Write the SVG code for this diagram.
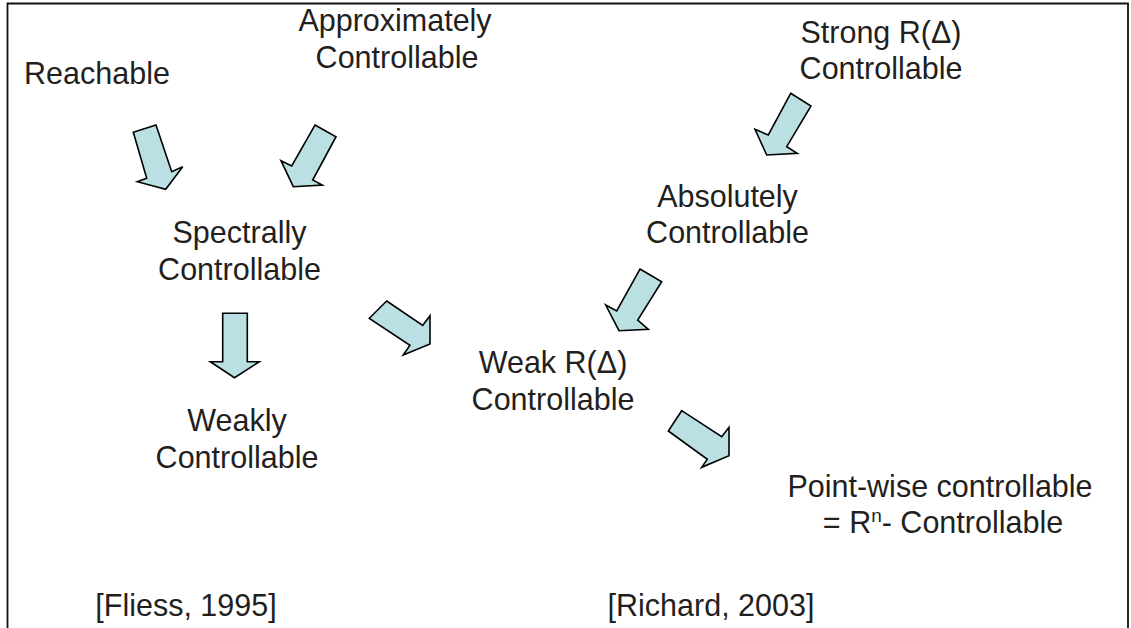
<svg xmlns="http://www.w3.org/2000/svg" width="1131" height="628" viewBox="0 0 1131 628">
<style>
.t{font-family:"Liberation Sans",Arial,sans-serif;font-size:30.5px;fill:#231f20;text-anchor:middle}
.a{fill:#bbe0e3;stroke:#000;stroke-width:1.6;stroke-linejoin:miter}
</style>
<rect x="0" y="0" width="1131" height="628" fill="#fff"/>
<path d="M7.5,628 V3.5 H1128 V628" fill="none" stroke="#111" stroke-width="1.8"/>
<g id="reachable"><text class="t" x="97" y="83.5">Reachable</text></g>
<g id="approx"><text class="t" x="395" y="31">Approximately</text><text class="t" x="397" y="68">Controllable</text></g>
<g id="spectrally"><text class="t" x="239.5" y="243.3">Spectrally</text><text class="t" x="239.5" y="280">Controllable</text></g>
<g id="weakly"><text class="t" x="237" y="431">Weakly</text><text class="t" x="237" y="468">Controllable</text></g>
<g id="strong"><text class="t" x="881" y="42.7">Strong R(Δ)</text><text class="t" x="881" y="79">Controllable</text></g>
<g id="absolutely"><text class="t" x="727.5" y="206.7">Absolutely</text><text class="t" x="727.5" y="243.3">Controllable</text></g>
<g id="weak"><text class="t" x="553" y="373.3">Weak R(Δ)</text><text class="t" x="553" y="410">Controllable</text></g>
<g id="pointwise"><text class="t" x="940" y="496.6">Point-wise controllable</text><text class="t" x="943" y="533.3">= R<tspan font-size="19" dy="-11">n</tspan><tspan dy="11">- Controllable</tspan></text></g>
<g id="fliess"><text class="t" x="186" y="616">[Fliess, 1995]</text></g>
<g id="richard"><text class="t" x="711" y="616">[Richard, 2003]</text></g>
<g id="connectors">
<polygon class="a" points="133.3,132.3 156,125 171.7,171.7 182.7,166.7 165.7,189.3 137.3,181.7 146.7,178.3"/>
<polygon class="a" points="315,125 336,136.7 312.7,180 322.3,185 293.3,186.7 281,160.7 291.7,166"/>
<polygon class="a" points="222.7,313.3 247.3,313.3 247.3,361.7 259.3,361.7 234.5,377.7 210.3,361.7 222.7,361.7"/>
<polygon class="a" points="386.7,301 422.7,325.5 430,315.7 430,344 403.3,355 409.9,345.3 369.3,318.3"/>
<polygon class="a" points="790.7,93.3 811,106 786.7,146.7 797.3,153.3 766.7,155 755,129.3 768.3,135"/>
<polygon class="a" points="640,269 661.7,281.7 637.7,320 648.3,329.3 619,330.7 605.7,305 616.7,311"/>
<polygon class="a" points="681.7,410.7 721.7,436.7 729,427.3 729,455.7 701.7,467.3 707.3,459.3 668.3,431"/>
</g>
</svg>
